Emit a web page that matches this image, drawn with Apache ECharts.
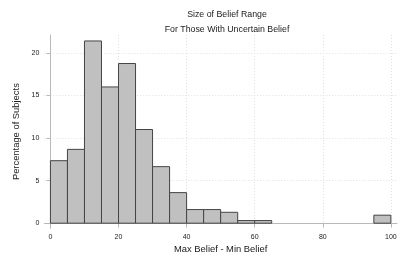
<!DOCTYPE html>
<html><head><meta charset="utf-8">
<script src="https://cdn.jsdelivr.net/npm/echarts@6/dist/echarts.min.js"></script>
<style>html,body{margin:0;padding:0;background:#fff}#c{width:407px;height:271px}</style>
</head><body><div id="c"></div>
<script>
const binStarts = [0,5,10,15,20,25,30,35,40,45,50,55,60,95];
const binWidth = 5;
const percents = [7.34,8.67,21.4,16.0,18.75,11.0,6.64,3.59,1.6,1.6,1.28,0.31,0.31,0.94];
const xTicks = [0,20,40,60,80,100];
const yTicks = [0,5,10,15,20];
const titleLines = ['Size of Belief Range','For Those With Uncertain Belief'];

const data = binStarts.map((s,i)=>[s, s+binWidth, percents[i]]);
const chart = echarts.init(document.getElementById('c'), null, {renderer:'canvas'});
const font = 'Liberation Sans, Arial, sans-serif';
chart.setOption({
  animation:false,
  backgroundColor:'#fff',
  title:{text:titleLines.join('\n'), left:222, textAlign:'center', top:2.5,
    textStyle:{fontFamily:font, fontSize:8.8, fontWeight:'normal', color:'#1a1a1a', lineHeight:14.4}},
  grid:{left:44.3, right:10, top:35, bottom:42.7, containLabel:false},
  xAxis:{type:'value', min:-1.8, max:101.8,
    name:'Max Belief - Min Belief', nameLocation:'middle', nameGap:17,
    nameTextStyle:{fontFamily:font, fontSize:9.4, color:'#1a1a1a'},
    axisLine:{show:true, lineStyle:{color:'#b8b8b8', width:1}},
    axisTick:{show:true, customValues:xTicks, length:4, lineStyle:{color:'#b8b8b8'}},
    axisLabel:{customValues:xTicks, fontFamily:font, fontSize:7, color:'#222', margin:5},
    splitLine:{show:true, lineStyle:{color:'#e0e0e0', type:[1,2], width:1}}},
  yAxis:{type:'value', min:-0.6, max:22.1,
    name:'Percentage of Subjects', nameLocation:'middle', nameGap:23, nameRotate:90,
    nameTextStyle:{fontFamily:font, fontSize:9.4, color:'#1a1a1a'},
    axisLine:{show:true, lineStyle:{color:'#b8b8b8', width:1}},
    axisTick:{show:true, customValues:yTicks, length:4, lineStyle:{color:'#b8b8b8'}},
    axisLabel:{customValues:yTicks, fontFamily:font, fontSize:7, color:'#222', margin:5},
    splitLine:{show:true, lineStyle:{color:'#e0e0e0', type:[1,2], width:1}}},
  series:[{type:'custom', data:data,
    encode:{x:[0,1], y:2},
    renderItem:function(params, api){
      const p0 = api.coord([api.value(0), 0]);
      const p1 = api.coord([api.value(1), api.value(2)]);
      return {type:'rect', shape:{x:p0[0], y:p1[1], width:p1[0]-p0[0], height:p0[1]-p1[1]},
        style:{fill:'#c0c0c0', stroke:'#444', lineWidth:1}};
    }}]
});
</script></body></html>
